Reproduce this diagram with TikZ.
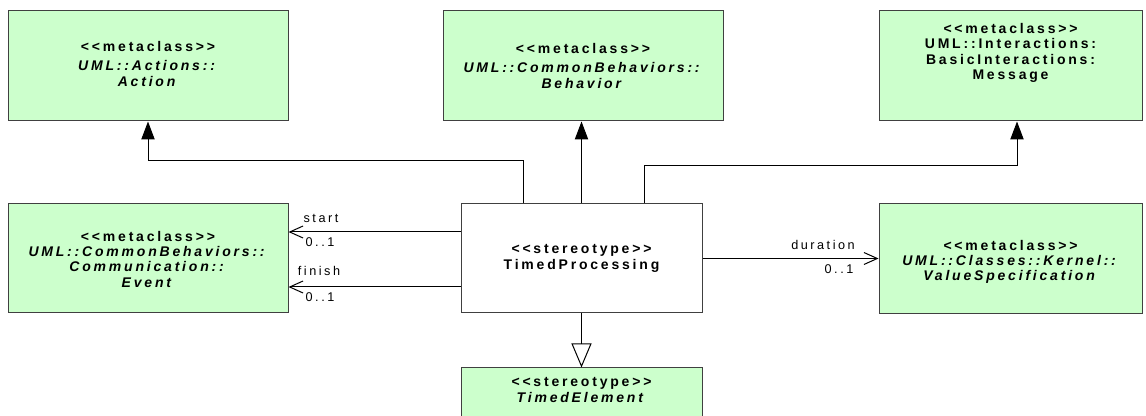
\documentclass[tikz,border=0pt]{standalone}
\usepackage{fontspec}
\setmainfont{Liberation Sans}[LetterSpace=20, Ligatures=TeXOff]
\usetikzlibrary{arrows.meta}
\definecolor{metagreen}{RGB}{204,255,204}
\definecolor{edgegray}{RGB}{64,64,64}

\begin{document}
\begin{tikzpicture}[x=0.75pt, y=-0.75pt, line width=0.75pt,
  box/.style={draw=edgegray, fill=metagreen, inner sep=0pt},
  boxtext/.style={align=center, inner sep=0pt, font=\fontsize{10.5}{11.5}\selectfont\bfseries},
  lbl/.style={inner sep=0pt, font=\fontsize{9.5}{10}\selectfont},
  gen/.style={-{Triangle[length=13.5pt,width=10pt]}},
  assoc/.style={-{Straight Barb[length=10pt,width=9pt]}}]
  \useasboundingbox (0,0) rectangle (1146,416);
  \clip (0,0) rectangle (1146,416);
  % 위쪽 메타클래스
  \node[box, minimum width=210pt, minimum height=82.5pt] (action) at (148,66) {};
  \node[box, minimum width=210pt, minimum height=82.5pt] (behavior) at (583,66) {};
  \node[box, minimum width=197.25pt, minimum height=82.5pt] (message) at (1010.5,66) {};
  \node[boxtext] (actiontxt) at (148,64) {<<metaclass>>\\[3pt] \textit{UML::Actions::}\\ \textit{Action}};
  \node[boxtext] (behaviortxt) at (583,66) {<<metaclass>>\\[3pt] \textit{UML::CommonBehaviors::}\\ \textit{Behavior}};
  \node[boxtext] (messagetxt) at (1010.5,53) {<<metaclass>>\\ UML::Interactions:\\ BasicInteractions:\\ Message};
  % 가운데 줄
  \node[box, minimum width=210pt, minimum height=81.75pt] (event) at (148,258.5) {};
  \node[box, fill=white, minimum width=180.75pt, minimum height=81.75pt] (tp) at (581.5,258.5) {};
  \node[box, minimum width=197.25pt, minimum height=82.5pt] (valuespec) at (1010.5,259) {};
  \node[boxtext] (eventtxt) at (148,259) {<<metaclass>>\\ \textit{UML::CommonBehaviors::}\\ \textit{Communication::}\\ \textit{Event}};
  \node[boxtext] (tptxt) at (581.5,258.5) {<<stereotype>>\\ TimedProcessing};
  \node[boxtext] (valuespectxt) at (1010.5,262) {<<metaclass>>\\ \textit{UML::Classes::Kernel::}\\ \textit{ValueSpecification}};
  % 아래 (잘림)
  \node[box, minimum width=180.75pt, minimum height=54pt] (te) at (581.5,404) {};
  \node[boxtext] (tetxt) at (581.5,390) {<<stereotype>>\\ \textit{TimedElement}};
  % 확장 화살표
  \coordinate (actionbend) at (523,161);
  \coordinate (msgbend) at (644,166);
  \coordinate (msgturn) at (1017,166);
  \draw[gen] (actionbend |- tp.north) -- (actionbend) -- (actionbend -| action) -- (action.south);
  \draw[gen] (tp.north) -- (tp.north |- behavior.south);
  \draw[gen] (msgbend |- tp.north) -- (msgbend) -- (msgturn) -- (msgturn |- message.south);
  % 연관
  \coordinate (startrow) at (0,232);
  \coordinate (finishrow) at (0,287);
  \draw[assoc] (tp.west |- startrow) -- (event.east |- startrow);
  \draw[assoc] (tp.west |- finishrow) -- (event.east |- finishrow);
  \draw[assoc] (tp.east) -- (tp.east -| valuespec.west);
  \node[lbl] (startlbl) at (321,218) {start};
  \node[lbl] (startmult) at (320,242) {0..1};
  \node[lbl] (finishlbl) at (319,271) {finish};
  \node[lbl] (finishmult) at (320,297) {0..1};
  \node[lbl] (durationlbl) at (823,245) {duration};
  \node[lbl] (durationmult) at (839,269) {0..1};
  % 일반화
  \draw[-{Triangle[open,length=18pt,width=15pt]}] (tp.south) -- (tp.south |- te.north);
\end{tikzpicture}
\end{document}
